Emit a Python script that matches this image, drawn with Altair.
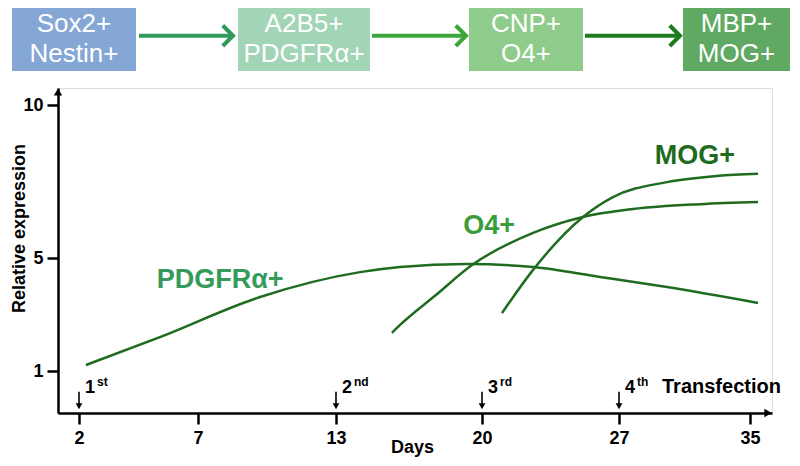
import altair as alt
import pandas as pd

# ---------------- data ----------------
stage_labels = ["Sox2+\nNestin+", "A2B5+\nPDGFRα+", "CNP+\nO4+", "MBP+\nMOG+"]
stage_colors = ["#85a7d6", "#a2d5b6", "#8fcc8b", "#5fa963"]
arrow_colors = ["#2f9a5c", "#3ca63c", "#1e7a1e"]

series_names = ["PDGFRα+", "O4+", "MOG+"]
label_colors = ["#359a5c", "#3a9c3a", "#1e6b1e"]

pdgfr_day = [2.29, 5.40, 9.70, 14.15, 16.07, 19.28, 22.61, 26.03, 29.93, 35.49]
pdgfr_val = [1.21, 2.20, 3.62, 4.50, 4.68, 4.79, 4.68, 4.33, 3.97, 3.41]
o4_day = [15.68, 16.07, 17.79, 19.52, 22.61, 25.16, 27.85, 31.95, 35.49]
o4_val = [2.35, 2.63, 3.69, 4.75, 5.82, 6.34, 6.60, 6.76, 6.83]
mog_day = [21.02, 22.61, 25.16, 26.69, 29.93, 32.98, 35.49]
mog_val = [3.05, 4.58, 6.34, 6.99, 7.48, 7.68, 7.75]

label_day = [7.96, 20.36, 31.64]
label_val = [4.22, 6.05, 8.33]

transfection_day = [2, 13, 20, 27]
transfection_num = ["1", "2", "3", "4"]
transfection_suffix = ["st", "nd", "rd", "th"]

x_ticks = [2, 7, 13, 20, 27, 35]
y_ticks = [1, 5, 10]

# ---------------- layout (scales) ----------------
W, H = 714, 325
X_DOMAIN = [1.12, 2, 7, 13, 20, 27, 35, 36.34]
X_RANGE = [0, 21, 140, 278, 424, 561, 692, W]
Y_DOMAIN = [-0.49, 1, 5, 10, 10.56]
Y_RANGE = [H, 283, 170, 17, 0]
FONT = "Liberation Sans"
LINE = "#1f6b1f"

# diagram layout in page pixels
box_left = [12, 238, 469, 683]
box_right = [136, 370, 583, 790]
arrow_from = [139, 372, 585]
arrow_to = [233, 466, 680]

xs = alt.Scale(domain=X_DOMAIN, range=X_RANGE, nice=False, zero=False)
ys = alt.Scale(domain=Y_DOMAIN, range=Y_RANGE, nice=False, zero=False)

x_axis = alt.Axis(values=x_ticks, title="Days", grid=False, labelFontSize=18,
                  labelFontWeight="bold", labelColor="black", titleFontSize=18,
                  titleFontWeight="bold", titleColor="black", domainColor="black",
                  domainWidth=2.5, tickColor="black", tickWidth=2.5, tickSize=11,
                  labelPadding=5, titleX=354, titleY=34, titleBaseline="middle",
                  titleAlign="center", labelFont=FONT, titleFont=FONT)
y_axis = alt.Axis(values=y_ticks, title="Relative expression", grid=False,
                  labelFontSize=18, labelFontWeight="bold", labelColor="black",
                  titleFontSize=18, titleFontWeight="bold", titleColor="black",
                  domainColor="black", domainWidth=2.5, tickColor="black",
                  tickWidth=2.5, tickSize=11, labelPadding=4, titleX=-39,
                  titleY=140, titleAngle=-90, titleAlign="center",
                  titleBaseline="middle", labelFont=FONT, titleFont=FONT)

X = alt.X("day:Q", scale=xs, axis=x_axis)
Y = alt.Y("value:Q", scale=ys, axis=y_axis)

rows = []
for name, d, v in [(series_names[0], pdgfr_day, pdgfr_val),
                   (series_names[1], o4_day, o4_val),
                   (series_names[2], mog_day, mog_val)]:
    for i, (a, b) in enumerate(zip(d, v)):
        rows.append({"series": name, "day": a, "value": b, "order": i})
curves_df = pd.DataFrame(rows)

curves = alt.Chart(curves_df).mark_line(
    color=LINE, strokeWidth=2.5, interpolate="monotone"
).encode(x=X, y=Y, detail="series:N", order="order:Q")

labels_df = pd.DataFrame({"series": series_names, "day": label_day,
                          "value": label_val})
labels = alt.Chart(labels_df).mark_text(
    fontSize=27, fontWeight="bold", font=FONT
).encode(x=X, y=Y, text="series:N",
         color=alt.Color("series:N", scale=alt.Scale(domain=series_names,
                                                     range=label_colors),
                         legend=None))

tr_df = pd.DataFrame({"day": transfection_day, "num": transfection_num,
                      "suffix": transfection_suffix})
tr_df["top"] = 0.26
tr_df["bottom"] = -0.17
tr_df["head"] = -0.25
tr_df["text_y"] = 0.22

shaft = alt.Chart(tr_df).mark_rule(color="black", strokeWidth=1.6).encode(
    x=X, y=alt.Y("top:Q", scale=ys, axis=y_axis), y2="bottom:Q")
head = alt.Chart(tr_df).mark_point(shape="triangle-down", filled=True,
                                   color="black", size=45, opacity=1).encode(
    x=X, y=alt.Y("head:Q", scale=ys, axis=y_axis))
num = alt.Chart(tr_df).mark_text(align="left", baseline="alphabetic", dx=6,
                                 fontSize=18, fontWeight="bold", font=FONT,
                                 color="black").encode(
    x=X, y=alt.Y("text_y:Q", scale=ys, axis=y_axis), text="num:N")
sup = alt.Chart(tr_df).mark_text(align="left", baseline="alphabetic", dx=18,
                                 dy=-7, fontSize=12, fontWeight="bold",
                                 font=FONT, color="black").encode(
    x=X, y=alt.Y("text_y:Q", scale=ys, axis=y_axis), text="suffix:N")
word = alt.Chart(tr_df.tail(1)).mark_text(
    align="left", baseline="alphabetic", dx=43, fontSize=20,
    fontWeight="bold", font=FONT, color="black").encode(
    x=X, y=alt.Y("text_y:Q", scale=ys, axis=y_axis),
    text=alt.value("Transfection"))

ends_df = pd.DataFrame({"day": [X_DOMAIN[0], X_DOMAIN[-1]],
                        "value": [Y_DOMAIN[-1], Y_DOMAIN[0]]})
up_tip = alt.Chart(ends_df.head(1)).mark_point(
    shape="triangle-up", filled=True, color="black", size=70, opacity=1,
    yOffset=4).encode(x=X, y=Y)
right_tip = alt.Chart(ends_df.tail(1)).mark_point(
    shape="triangle-right", filled=True, color="black", size=70, opacity=1,
    xOffset=-4).encode(x=X, y=Y)

plot = alt.layer(curves, labels, shaft, head, num, sup, word, up_tip, right_tip)

# ---------------- diagram ----------------
dxs = alt.Scale(domain=[0, 800], range=[-58, 742], nice=False, zero=False)
dys = alt.Scale(domain=[0, 1], range=[-17, -80], nice=False, zero=False)

box_df = pd.DataFrame({"label": stage_labels, "color": stage_colors,
                       "left": box_left, "right": box_right})
box_df["mid"] = (box_df["left"] + box_df["right"]) / 2
box_df["y0"] = 0.0
box_df["y1"] = 1.0
box_df["ym"] = 0.74

boxes = alt.Chart(box_df).mark_rect().encode(
    x=alt.X("left:Q", scale=dxs, axis=None), x2="right:Q",
    y=alt.Y("y0:Q", scale=dys, axis=None), y2="y1:Q",
    color=alt.Color("color:N", scale=None))
box_text = alt.Chart(box_df).mark_text(
    color="white", fontSize=26, font=FONT, lineHeight=30, baseline="middle",
    lineBreak="\n"
).encode(x=alt.X("mid:Q", scale=dxs, axis=None),
         y=alt.Y("ym:Q", scale=dys, axis=None), text="label:N")

arr_df = pd.DataFrame({"x0": arrow_from, "x1": arrow_to, "color": arrow_colors})
arr_df["x1s"] = arr_df["x1"] - 3
arr_df["y"] = 0.56
arr_lines = alt.Chart(arr_df).mark_rule(strokeWidth=4).encode(
    x=alt.X("x0:Q", scale=dxs, axis=None), x2="x1s:Q",
    y=alt.Y("y:Q", scale=dys, axis=None),
    color=alt.Color("color:N", scale=None))
arr_heads = alt.Chart(arr_df).mark_point(
    shape="M-1,-1L0,0L-1,1", filled=False, strokeWidth=4, size=420, opacity=1
).encode(x=alt.X("x1:Q", scale=dxs, axis=None),
         y=alt.Y("y:Q", scale=dys, axis=None),
         color=alt.Color("color:N", scale=None))

diagram = alt.layer(boxes, box_text, arr_lines, arr_heads)

chart = alt.layer(diagram, plot).resolve_scale(
    x="independent", y="independent", color="independent"
).properties(
    width=W, height=H,
    padding={"left": 50, "top": 80, "right": 20, "bottom": 45},
    autosize=alt.AutoSizeParams(type="none"),
    background="white",
).configure_view(stroke=None).configure(font=FONT)

chart.save("out.html", embed_options={"renderer": "svg", "actions": False})
